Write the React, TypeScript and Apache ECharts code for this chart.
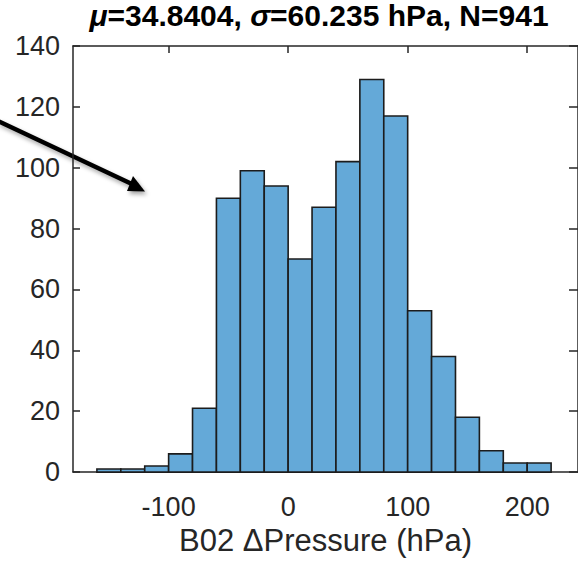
import React, { useEffect, useRef } from "react";
import * as echarts from "echarts";

const binStarts = [-160, -140, -120, -100, -80, -60, -40, -20, 0, 20, 40, 60, 80, 100, 120, 140, 160, 180, 200];
const binEnds = [-140, -120, -100, -80, -60, -40, -20, 0, 20, 40, 60, 80, 100, 120, 140, 160, 180, 200, 220];
const counts = [1, 1, 2, 6, 21, 90, 99, 94, 70, 87, 102, 129, 117, 53, 38, 18, 7, 3, 3];
const xTicks = [-100, 0, 100, 200];
const titleText = "{i|μ}=34.8404, {i|σ}=60.235 hPa, N=941";
const xName = "B02 ΔPressure (hPa)";

const FONT = "'Liberation Sans', Arial, Helvetica, sans-serif";
const TXT = "#262626";

export default function App() {
  const ref = useRef<HTMLDivElement>(null);
  useEffect(() => {
    if (!ref.current) return;
    const chart = echarts.init(ref.current, null, { renderer: "svg" });
    const data = binStarts.map((s, i) => [s, binEnds[i], counts[i]]);
    const axisLine = { show: true, onZero: false, lineStyle: { color: TXT, width: 1.5 } };
    const tick = { show: true, inside: true, length: 7, lineStyle: { color: TXT, width: 1.5 } };
    chart.setOption({
      animation: false,
      textStyle: { fontFamily: FONT },
      grid: { left: 73, top: 46, width: 509, height: 432 },
      xAxis: [
        {
          type: "value",
          min: -180,
          max: 242.5,
          axisLine,
          splitLine: { show: false },
          axisTick: { ...tick, customValues: xTicks },
          axisLabel: { customValues: xTicks, color: TXT, fontSize: 27, fontFamily: FONT, margin: 21 },
          name: xName,
          nameLocation: "middle",
          nameGap: 50,
          nameTextStyle: { color: TXT, fontSize: 31, fontFamily: FONT },
        },
        {
          type: "value",
          position: "top",
          min: -180,
          max: 242.5,
          axisLine,
          splitLine: { show: false },
          axisTick: { ...tick, customValues: xTicks },
          axisLabel: { show: false },
        },
      ],
      yAxis: [
        {
          type: "value",
          position: "left",
          min: 0,
          max: 140,
          interval: 20,
          axisLine,
          splitLine: { show: false },
          axisTick: tick,
          axisLabel: { color: TXT, fontSize: 27, fontFamily: FONT, margin: 13 },
        },
        {
          type: "value",
          position: "right",
          min: 0,
          max: 140,
          interval: 20,
          axisLine,
          splitLine: { show: false },
          axisTick: { ...tick, length: 9 },
          axisLabel: { show: false },
        },
      ],
      series: [
        {
          type: "custom",
          xAxisIndex: 0,
          yAxisIndex: 0,
          encode: { x: [0, 1], y: 2 },
          data,
          renderItem: (params: any, api: any) => {
            const p0 = api.coord([api.value(0), 0]);
            const p1 = api.coord([api.value(1), api.value(2)]);
            return {
              type: "rect",
              shape: { x: p0[0], y: p1[1], width: p1[0] - p0[0], height: p0[1] - p1[1] },
              style: { fill: "#64A9D8", stroke: "#1c1c1c", lineWidth: 1.6 },
            };
          },
        },
      ],
      graphic: [
        {
          type: "text",
          x: 319,
          y: 15,
          style: {
            text: titleText,
            fill: "#000",
            font: `bold 30px ${FONT}`,
            fontWeight: "bold",
            fontSize: 30,
            fontFamily: FONT,
            align: "center",
            verticalAlign: "middle",
            rich: {
              i: { fontStyle: "italic", fontWeight: "bold", fontSize: 30, fontFamily: FONT, fill: "#000" },
            },
          },
        },
        {
          type: "line",
          shape: { x1: -2, y1: 121, x2: 134, y2: 185 },
          style: {
            stroke: "#000",
            lineWidth: 4.5,
            shadowBlur: 4,
            shadowColor: "rgba(0,0,0,0.35)",
            shadowOffsetX: 2,
            shadowOffsetY: 3,
          },
        },
        {
          type: "polygon",
          shape: { points: [[145, 191.5], [133, 176], [127, 191]] },
          style: {
            fill: "#000",
            shadowBlur: 4,
            shadowColor: "rgba(0,0,0,0.35)",
            shadowOffsetX: 2,
            shadowOffsetY: 3,
          },
        },
      ],
    });
    return () => chart.dispose();
  }, []);
  return <div ref={ref} style={{ width: 578, height: 561, position: "absolute", left: 0, top: 0 }} />;
}
